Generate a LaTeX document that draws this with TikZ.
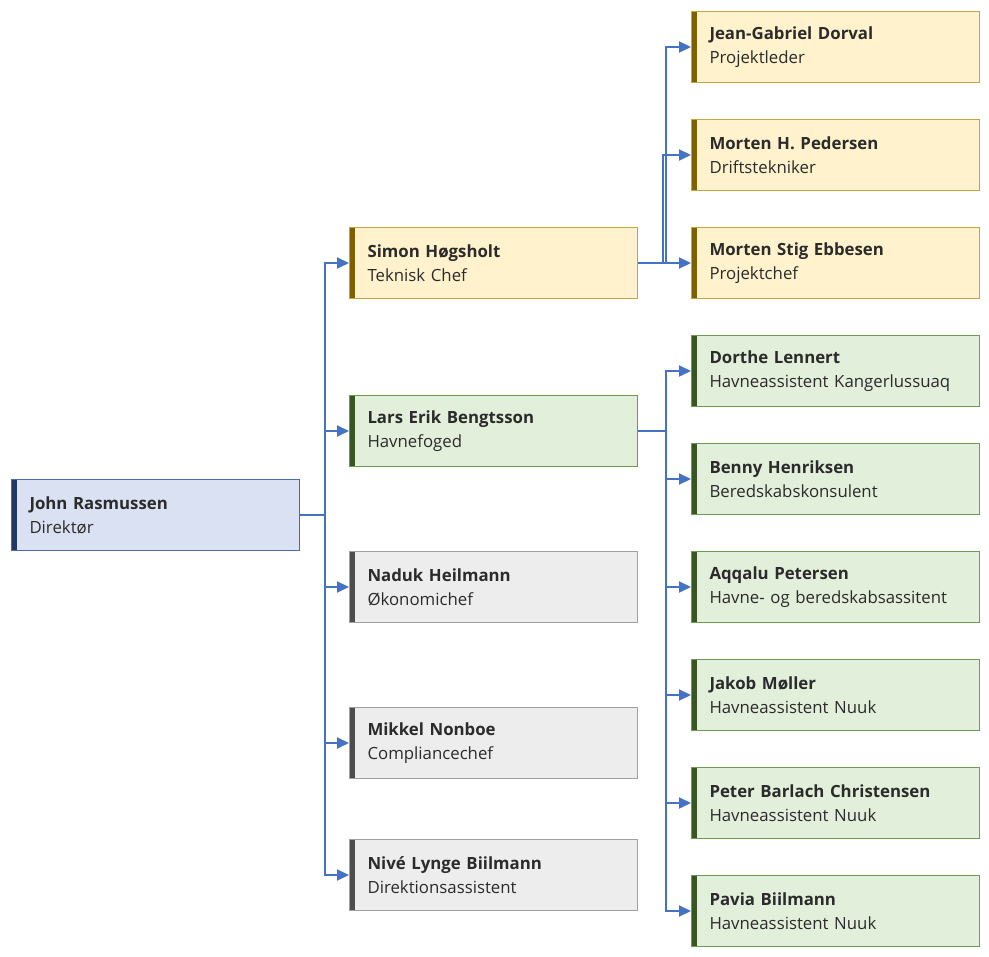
\documentclass[tikz,border=0pt]{standalone}
\usepackage{fontspec}
\setmainfont{Open Sans}
\usetikzlibrary{arrows.meta}
\definecolor{cline}{HTML}{4472C4}
\definecolor{bFill}{HTML}{DAE1F3}\definecolor{bDraw}{HTML}{4A6AAE}\definecolor{bBar}{HTML}{203864}
\definecolor{yFill}{HTML}{FFF2CC}\definecolor{yDraw}{HTML}{C8A43C}\definecolor{yBar}{HTML}{7F6000}
\definecolor{gFill}{HTML}{E2EFDA}\definecolor{gDraw}{HTML}{6E9B4F}\definecolor{gBar}{HTML}{375623}
\definecolor{nFill}{HTML}{EDEDED}\definecolor{nDraw}{HTML}{A0A0A0}\definecolor{nBar}{HTML}{4D4D4D}
\definecolor{txt}{HTML}{2B2B2B}
\tikzset{
  card/.style={rectangle, anchor=north west, minimum width=288pt, minimum height=71pt,
    text width=252pt, inner xsep=18pt, inner ysep=0pt, align=left, line width=1pt,
    text=txt, font=\fontsize{16.8}{24}\selectfont},
  cardcol/.style 2 args={card, fill=#1Fill, draw=#1Draw,
    path picture={\fill[#1Bar] (path picture bounding box.north west) rectangle ([xshift=5pt]path picture bounding box.south west);}},
  bluecard/.style={cardcol={b}{}},
  yelcard/.style={cardcol={y}{}},
  grncard/.style={cardcol={g}{}},
  grycard/.style={cardcol={n}{}},
  conn/.style={draw=cline, line width=2pt, -{Triangle[length=12pt,width=11pt]}}
}
\begin{document}
\begin{tikzpicture}[x=1pt,y=-1pt]
\useasboundingbox (0,0) rectangle (989,957);
\node[bluecard] (john) at (11,479) {\textbf{John Rasmussen}\\Direktør};
\node[yelcard] (simon) at (349,227) {\textbf{Simon Høgsholt}\\Teknisk Chef};
\node[grncard] (lars) at (349,395) {\textbf{Lars Erik Bengtsson}\\Havnefoged};
\node[grycard] (naduk) at (349,551) {\textbf{Naduk Heilmann}\\Økonomichef};
\node[grycard] (mikkel) at (349,707) {\textbf{Mikkel Nonboe}\\Compliancechef};
\node[grycard] (nive) at (349,839) {\textbf{Nivé Lynge Biilmann}\\Direktionsassistent};
\node[yelcard] (jean) at (691,11) {\textbf{Jean-Gabriel Dorval}\\Projektleder};
\node[yelcard] (mortenh) at (691,119) {\textbf{Morten H. Pedersen}\\Driftstekniker};
\node[yelcard] (mortens) at (691,227) {\textbf{Morten Stig Ebbesen}\\Projektchef};
\node[grncard] (dorthe) at (691,335) {\textbf{Dorthe Lennert}\\Havneassistent Kangerlussuaq};
\node[grncard] (benny) at (691,443) {\textbf{Benny Henriksen}\\Beredskabskonsulent};
\node[grncard] (aqqalu) at (691,551) {\textbf{Aqqalu Petersen}\\Havne- og beredskabsassitent};
\node[grncard] (jakob) at (691,659) {\textbf{Jakob Møller}\\Havneassistent Nuuk};
\node[grncard] (peter) at (691,767) {\textbf{Peter Barlach Christensen}\\Havneassistent Nuuk};
\node[grncard] (pavia) at (691,875) {\textbf{Pavia Biilmann}\\Havneassistent Nuuk};
% director connectors
\foreach \t in {simon,lars,naduk,mikkel,nive}
  \draw[conn] (john.east) -- ++(25,0) |- (\t.west);
% Simon connectors
\draw[conn] (simon.east) -- ++(28,0) |- (jean.west);
\draw[conn] (simon.east) -- ++(25,0) |- (mortenh.west);
\draw[conn] (simon.east) -- (mortens.west);
% Lars connectors
\foreach \t in {dorthe,benny,aqqalu,jakob,peter,pavia}
  \draw[conn] (lars.east) -- ++(28,0) |- (\t.west);
\end{tikzpicture}
\end{document}
